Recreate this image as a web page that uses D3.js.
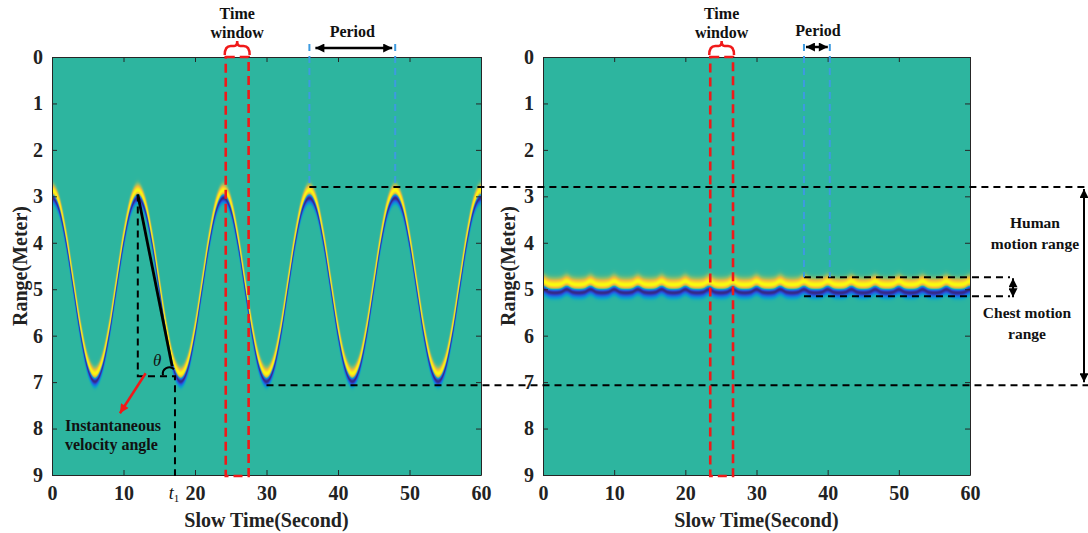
<!DOCTYPE html>
<html><head><meta charset="utf-8">
<script src="https://cdn.jsdelivr.net/npm/d3@7"></script>
<style>body{margin:0;background:#fff} svg{display:block;font-family:"Liberation Serif","Times New Roman",serif}</style>
</head><body>
<svg id="chart" width="1088" height="533"></svg>
<script>
// ---------------- data ----------------
const xTicks = [0, 10, 20, 30, 40, 50, 60];
const yTicks = [0, 1, 2, 3, 4, 5, 6, 7, 8, 9];

// Left panel: human body moving (range of the echo centre, metres, per second)
const leftTimes = [0,1,2,3,4,5,6,7,8,9,10,11,12,13,14,15,16,17,18,19,20,21,22,23,24,25,26,27,28,29,30,
  31,32,33,34,35,36,37,38,39,40,41,42,43,44,45,46,47,48,49,50,51,52,53,54,55,56,57,58,59,60];
const leftRange = [2.96,3.22,3.95,4.93,5.91,6.64,6.91,6.64,5.91,4.93,3.95,3.22,
  2.96,3.22,3.95,4.93,5.91,6.64,6.91,6.64,5.91,4.93,3.95,3.22,
  2.96,3.22,3.95,4.93,5.91,6.64,6.91,6.64,5.91,4.93,3.95,3.22,
  2.96,3.22,3.95,4.93,5.91,6.64,6.91,6.64,5.91,4.93,3.95,3.22,
  2.96,3.22,3.95,4.93,5.91,6.64,6.91,6.64,5.91,4.93,3.95,3.22,
  2.96];

// Right panel: chest motion only
const rightTimes = [0,0.83,1.67,2.5,3.33,4.17,5,5.83,6.67,7.5,8.33,9.17,10,10.83,11.67,12.5,13.33,14.17,15,15.83,
  16.67,17.5,18.33,19.17,20,20.83,21.67,22.5,23.33,24.17,25,25.83,26.67,27.5,28.33,29.17,30,30.83,31.67,32.5,
  33.33,34.17,35,35.83,36.67,37.5,38.33,39.17,40,40.83,41.67,42.5,43.33,44.17,45,45.83,46.67,47.5,48.33,49.17,
  50,50.83,51.67,52.5,53.33,54.17,55,55.83,56.67,57.5,58.33,59.17,60];
const rightRange = [4.93,4.985,5.0,4.985, 4.93,4.985,5.0,4.985, 4.93,4.985,5.0,4.985, 4.93,4.985,5.0,4.985,
  4.93,4.985,5.0,4.985, 4.93,4.985,5.0,4.985, 4.93,4.985,5.0,4.985, 4.93,4.985,5.0,4.985,
  4.93,4.985,5.0,4.985, 4.93,4.985,5.0,4.985, 4.93,4.985,5.0,4.985, 4.93,4.985,5.0,4.985,
  4.93,4.985,5.0,4.985, 4.93,4.985,5.0,4.985, 4.93,4.985,5.0,4.985, 4.93,4.985,5.0,4.985,
  4.93,4.985,5.0,4.985, 4.93,4.985,5.0,4.985, 4.93];

// annotation values (data units)
const leftWindow = [24.3, 27.5];
const rightWindow = [23.5, 26.7];
const leftPeriod = [36, 48];
const rightPeriod = [36.67, 40.3];
const humanRange = [2.8, 7.07];
const chestRange = [4.74, 5.15];
const tangentStart = [12, 2.96], tangentEnd = [16.8, 6.66];
const t1Value = 17.2, angleRange = 6.875;
const redArrowFrom = [13.1, 6.81], redArrowTo = [9.5, 7.67];

// ---------------- layout ----------------
const svg = d3.select("#chart");
const Y0 = 57, Y1 = 475;
const panels = [
  {x0: 52, x1: 481, times: leftTimes, ranges: leftRange, sy: 4.4, sb: 3.6, ylab: 20},
  {x0: 543, x1: 970, times: rightTimes, ranges: rightRange, sy: 4.6, sb: 3.6, ylab: 508}
];
panels.forEach(p => {
  p.x = d3.scaleLinear().domain([0, 60]).range([p.x0, p.x1]);
  p.y = d3.scaleLinear().domain([0, 9]).range([Y0, Y1]);
});

// colormap (parula-like, centred on background teal)
const cmap = d3.scaleLinear()
  .domain([-1, -0.8, -0.55, -0.3, -0.12, 0, 0.15, 0.35, 0.55, 0.75, 1])
  .range(["#352a87","#2c3fc4","#1f63e0","#1289d6","#0ca5c7","#2db59f","#72bd7a","#b9bc55","#efb93d","#f8d22a","#f9fb0e"])
  .interpolate(d3.interpolateRgb);
const LUTN = 1001;
const lut = d3.range(LUTN).map(i => { const c = d3.rgb(cmap(-1 + 2 * i / (LUTN - 1))); return [c.r, c.g, c.b]; });

function catmull(times, vals, t) {
  const n = times.length;
  let i = d3.bisectRight(times, t) - 1; i = Math.max(0, Math.min(n - 2, i));
  const u = (t - times[i]) / (times[i + 1] - times[i]);
  const p1 = vals[i], p2 = vals[i + 1];
  const p0 = i > 0 ? vals[i - 1] : vals[i + 1];
  const p3 = i + 2 < n ? vals[i + 2] : vals[i];
  return 0.5 * ((2 * p1) + (-p0 + p2) * u + (2 * p0 - 5 * p1 + 4 * p2 - p3) * u * u + (-p0 + 3 * p1 - 3 * p2 + p3) * u * u * u);
}

function renderHeat(p) {
  const w = Math.round(p.x1 - p.x0), h = Y1 - Y0;
  const canvas = document.createElement("canvas");
  canvas.width = w; canvas.height = h;
  const ctx = canvas.getContext("2d");
  const img = ctx.createImageData(w, h);
  const SS = 4;
  const bg = lut[(LUTN - 1) / 2];
  const prof = d => {
    if (d < 0) { const u = d / p.sy; return -u * Math.exp(0.5 * (1 - u * u)); }
    const u = d / p.sb; return -u * Math.exp(0.5 * (1 - u * u));
  };
  for (let px = 0; px < w; px++) {
    const cs = [];
    for (let k = 0; k < SS; k++) {
      const t = p.x.invert(p.x0 + px + (k + 0.5) / SS);
      cs.push(p.y(catmull(p.times, p.ranges, t)) - Y0);
    }
    for (let py = 0; py < h; py++) {
      let r = 0, g = 0, b = 0;
      for (let k = 0; k < SS; k++) {
        const d = py + 0.5 - cs[k];
        let c = bg;
        if (Math.abs(d) < 30) {
          let v = Math.max(-1, Math.min(1, prof(d)));
          c = lut[Math.round((v + 1) / 2 * (LUTN - 1))];
        }
        r += c[0]; g += c[1]; b += c[2];
      }
      const o = (py * w + px) * 4;
      img.data[o] = r / SS; img.data[o + 1] = g / SS; img.data[o + 2] = b / SS; img.data[o + 3] = 255;
    }
  }
  ctx.putImageData(img, 0, 0);
  svg.append("image").attr("href", canvas.toDataURL()).attr("x", p.x0).attr("y", Y0)
    .attr("width", w).attr("height", h).attr("preserveAspectRatio", "none");
}

// defs: arrowheads
const defs = svg.append("defs");
[["arrBlack", "#000"], ["arrRed", "#f01919"]].forEach(([id, col]) => {
  defs.append("marker").attr("id", id).attr("viewBox", "0 0 10 10").attr("refX", 10).attr("refY", 5)
    .attr("markerWidth", 10).attr("markerHeight", 9).attr("markerUnits", "userSpaceOnUse")
    .attr("orient", "auto-start-reverse")
    .append("path").attr("d", "M0,0L10,5L0,10z").attr("fill", col);
});

const axisCol = "#262626";
panels.forEach(p => {
  renderHeat(p);
  const g = svg.append("g");
  const styleAxis = sel => {
    sel.selectAll("path,line").attr("stroke", axisCol).attr("stroke-width", 1);
    sel.selectAll("text").attr("font-family", '"Liberation Serif","Times New Roman",serif')
      .attr("font-size", 20).attr("font-weight", "bold").attr("fill", "#222");
  };
  g.append("g").attr("transform", `translate(0,${Y1})`)
    .call(d3.axisBottom(p.x).tickValues(xTicks).tickSizeInner(-5).tickSizeOuter(0).tickPadding(11)).call(styleAxis);
  g.append("g").attr("transform", `translate(0,${Y0})`)
    .call(d3.axisTop(p.x).tickValues(xTicks).tickSizeInner(-5).tickSizeOuter(0).tickFormat("")).call(styleAxis);
  g.append("g").attr("transform", `translate(${p.x0},0)`)
    .call(d3.axisLeft(p.y).tickValues(yTicks).tickSizeInner(-5).tickSizeOuter(0).tickPadding(9)).call(styleAxis);
  g.append("g").attr("transform", `translate(${p.x1},0)`)
    .call(d3.axisRight(p.y).tickValues(yTicks).tickSizeInner(-5).tickSizeOuter(0).tickFormat("")).call(styleAxis);
  g.append("text").attr("x", (p.x0 + p.x1) / 2).attr("y", 527).attr("text-anchor", "middle")
    .attr("font-size", 20).attr("font-weight", "bold").attr("fill", "#222").text("Slow Time(Second)");
  g.append("text").attr("transform", `translate(${p.ylab},${(Y0 + Y1) / 2}) rotate(-90)`).attr("dy", "0.35em")
    .attr("text-anchor", "middle").attr("font-size", 20).attr("font-weight", "bold").attr("fill", "#222").text("Range(Meter)");
});

const L = panels[0], R = panels[1];
const ann = svg.append("g").attr("fill", "none");
const label = (x, y, txt, opts = {}) => svg.append("text").attr("x", x).attr("y", y)
  .attr("text-anchor", opts.anchor || "middle").attr("font-size", opts.size || 16)
  .attr("font-weight", opts.weight || "bold").attr("font-style", opts.style || "normal")
  .attr("fill", "#111").text(txt);

// black dashed range lines
const bd = sel => sel.attr("stroke", "#000").attr("stroke-width", 2).attr("stroke-dasharray", "7,5");
bd(ann.append("line").attr("x1", L.x(leftPeriod[0])).attr("x2", 1088).attr("y1", L.y(humanRange[0])).attr("y2", L.y(humanRange[0])));
bd(ann.append("line").attr("x1", L.x(30)).attr("x2", 1088).attr("y1", L.y(humanRange[1])).attr("y2", L.y(humanRange[1])));
bd(ann.append("line").attr("x1", R.x(rightPeriod[0])).attr("x2", 1010).attr("y1", R.y(chestRange[0])).attr("y2", R.y(chestRange[0])));
bd(ann.append("line").attr("x1", R.x(rightPeriod[0])).attr("x2", 1010).attr("y1", R.y(chestRange[1])).attr("y2", R.y(chestRange[1])));

// blue dashed period markers
const blue = sel => sel.attr("stroke", "#3d9be0").attr("stroke-width", 2).attr("stroke-dasharray", "7,5");
leftPeriod.forEach(t => blue(ann.append("line").attr("x1", L.x(t)).attr("x2", L.x(t)).attr("y1", 44).attr("y2", L.y(humanRange[0]))));
rightPeriod.forEach(t => blue(ann.append("line").attr("x1", R.x(t)).attr("x2", R.x(t)).attr("y1", 44).attr("y2", R.y(chestRange[0]))));

// period double arrows
ann.append("line").attr("x1", L.x(leftPeriod[0]) + 6).attr("x2", L.x(leftPeriod[1]) - 3).attr("y1", 48).attr("y2", 48)
  .attr("stroke", "#000").attr("stroke-width", 2.5).attr("marker-start", "url(#arrBlack)").attr("marker-end", "url(#arrBlack)");
ann.append("line").attr("x1", R.x(rightPeriod[0]) + 2).attr("x2", R.x(rightPeriod[1]) - 2).attr("y1", 47).attr("y2", 47)
  .attr("stroke", "#000").attr("stroke-width", 2.5).attr("marker-start", "url(#arrBlack)").attr("marker-end", "url(#arrBlack)");
label((L.x(leftPeriod[0]) + L.x(leftPeriod[1])) / 2, 37, "Period");
label(818, 36, "Period");

// time windows (red dashed boxes + braces)
[[L, leftWindow], [R, rightWindow]].forEach(([p, w]) => {
  const xa = p.x(w[0]), xb = p.x(w[1]), xm = (xa + xb) / 2;
  ann.append("rect").attr("x", xa).attr("y", Y0).attr("width", xb - xa).attr("height", Y1 + 1 - Y0)
    .attr("stroke", "#f01919").attr("stroke-width", 2.6).attr("stroke-dasharray", "9,5");
  ann.append("path").attr("d", `M${xa - 1},55 Q${xa - 1},46 ${xa + 5},46 L${xm - 3},46 Q${xm},46 ${xm},41 Q${xm},46 ${xm + 3},46 L${xb - 5},46 Q${xb + 1},46 ${xb + 1},55`)
    .attr("stroke", "#f01919").attr("stroke-width", 2.5);
  label(xm, 19, "Time");
  label(xm, 38, "window");
});

// human & chest motion range arrows
ann.append("line").attr("x1", 1084).attr("x2", 1084).attr("y1", L.y(humanRange[0]) + 2).attr("y2", L.y(humanRange[1]) - 3)
  .attr("stroke", "#000").attr("stroke-width", 2).attr("marker-start", "url(#arrBlack)").attr("marker-end", "url(#arrBlack)");
ann.append("line").attr("x1", 1013).attr("x2", 1013).attr("y1", R.y(chestRange[0]) + 1).attr("y2", R.y(chestRange[1]) + 1)
  .attr("stroke", "#000").attr("stroke-width", 2).attr("marker-start", "url(#arrBlack)").attr("marker-end", "url(#arrBlack)");
label(1035, 228, "Human", {size: 15.5});
label(1035, 249, "motion range", {size: 15.5});
label(1027, 318, "Chest motion", {size: 15.5});
label(1027, 339, "range", {size: 15.5});

// velocity angle annotation (left panel)
ann.append("line").attr("x1", L.x(tangentStart[0])).attr("y1", L.y(tangentStart[1]))
  .attr("x2", L.x(tangentEnd[0])).attr("y2", L.y(tangentEnd[1])).attr("stroke", "#000").attr("stroke-width", 2.8);
bd(ann.append("path").attr("d", `M${L.x(tangentStart[0])},${L.y(tangentStart[1])}V${L.y(angleRange)}H${L.x(t1Value)}V${Y1 + 1}`));
ann.append("path").attr("d", `M${L.x(t1Value) - 12},${L.y(angleRange) - 1} A6.5 6.5 0 0 1 ${L.x(t1Value) - 1},${L.y(angleRange) - 7}`)
  .attr("stroke", "#000").attr("stroke-width", 2);
ann.append("line").attr("x1", L.x(redArrowFrom[0])).attr("y1", L.y(redArrowFrom[1]))
  .attr("x2", L.x(redArrowTo[0])).attr("y2", L.y(redArrowTo[1])).attr("stroke", "#f01919").attr("stroke-width", 2.5)
  .attr("marker-end", "url(#arrRed)");
label(L.x(14.7), 366, "θ", {weight: "normal", style: "italic", size: 17});
label(65, 431, "Instantaneous", {anchor: "start"});
label(65, 450, "velocity angle", {anchor: "start"});
const t1 = svg.append("text").attr("x", L.x(t1Value) - 1).attr("y", 499).attr("text-anchor", "middle")
  .attr("font-size", 18).attr("fill", "#111");
t1.append("tspan").attr("font-style", "italic").text("t");
t1.append("tspan").attr("font-size", 11).attr("dy", 3).text("1");
</script>
</body></html>
